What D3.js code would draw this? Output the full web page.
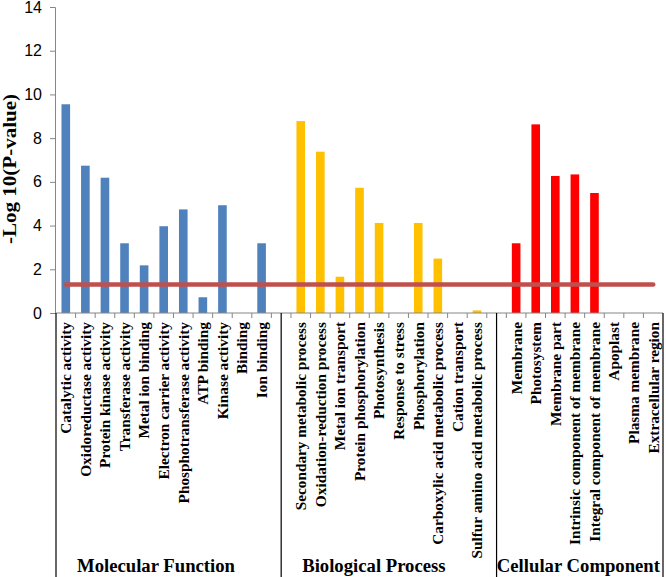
<!DOCTYPE html>
<html><head><meta charset="utf-8">
<script src="https://cdn.jsdelivr.net/npm/d3@7"></script>
<style>body{margin:0;background:#fff}svg{display:block}</style>
</head><body><div id="chart"></div>
<script>
const mfCategories = ["Catalytic activity","Oxidoreductase activity","Protein kinase activity","Transferase activity","Metal ion binding","Electron carrier activity","Phosphotransferase activity","ATP binding","Kinase activity","Binding","Ion binding"];
const mfValues = [9.55,6.74,6.19,3.19,2.18,3.97,4.74,0.72,4.93,0,3.19];
const bpCategories = ["Secondary metabolic process","Oxidation-reduction process","Metal ion transport","Protein phosphorylation","Photosynthesis","Response to stress","Phosphorylation","Carboxylic acid metabolic process","Cation transport","Sulfur amino acid metabolic process"];
const bpValues = [8.78,7.38,1.66,5.73,4.12,0,4.12,2.49,0,0.12];
const ccCategories = ["Membrane","Photosystem","Membrane part","Intrinsic component of membrane","Integral component of membrane","Apoplast","Plasma membrane","Extracellular region"];
const ccValues = [3.19,8.63,6.27,6.34,5.49,0,0,0];
const groupNames = ["Molecular Function","Biological Process","Cellular Component"];
const groupColors = ["#4f81bd","#ffc000","#ff0000"];
const yTicks = [0,2,4,6,8,10,12,14];
const threshold = 1.3;

const W = 666, H = 577;
const svg = d3.select("#chart").append("svg").attr("width",W).attr("height",H);

const groups = [
  {name:groupNames[0], cats:mfCategories, vals:mfValues, color:groupColors[0]},
  {name:groupNames[1], cats:bpCategories, vals:bpValues, color:groupColors[1]},
  {name:groupNames[2], cats:ccCategories, vals:ccValues, color:groupColors[2]}
];
const slots = [];
const bars = [];
groups.forEach((g,gi)=>{
  if(gi>0) slots.push("__gap"+gi);
  g.cats.forEach((c,i)=>{ slots.push(c); bars.push({cat:c, val:g.vals[i], color:g.color, gi}); });
});

const x0 = 56, x1 = 663, yBase = 313, yTop = 7;
const x = d3.scaleBand().domain(slots).range([x0,x1]).padding(0);
const y = d3.scaleLinear().domain([0,14]).range([yBase,yTop]);
const bw = x.bandwidth();
const barW = bw*0.44;

// y axis
const yAxis = svg.append("g").attr("transform",`translate(${x0-1},0)`)
  .call(d3.axisLeft(y).tickValues(yTicks).tickSize(5).tickPadding(8).tickFormat(d3.format("d")));
yAxis.select(".domain").attr("stroke","#868686");
yAxis.selectAll(".tick line").attr("stroke","#868686");
yAxis.selectAll(".tick text").attr("font-family","'Liberation Sans', Arial, sans-serif").attr("font-size",16).attr("fill","#000");

// bars
svg.append("g").selectAll("rect").data(bars.filter(d=>d.val>0)).join("rect")
  .attr("x",d=>x(d.cat)+bw/2-barW/2).attr("width",barW)
  .attr("y",d=>y(d.val)).attr("height",d=>yBase-y(d.val))
  .attr("fill",d=>d.color);

// x axis line
svg.append("line").attr("x1",x0-1).attr("x2",x1).attr("y1",yBase).attr("y2",yBase)
  .attr("stroke","#868686").attr("stroke-width",1);
// ticks at slot boundaries
const bounds = slots.map(s=>x(s)).concat([x1]);
svg.append("g").selectAll("line").data(bounds.slice(1,-1)).join("line")
  .attr("x1",d=>d).attr("x2",d=>d).attr("y1",yBase).attr("y2",yBase+5)
  .attr("stroke","#868686");

// threshold line
const firstC = x(slots[0])+bw/2, lastC = x(slots[slots.length-1])+bw/2;
svg.append("line").attr("x1",firstC).attr("x2",lastC)
  .attr("y1",y(threshold)).attr("y2",y(threshold))
  .attr("stroke","#c0504d").attr("stroke-width",4.5).attr("stroke-linecap","round");

// category labels
svg.append("g").selectAll("text").data(bars).join("text")
  .attr("transform",d=>`translate(${x(d.cat)+bw/2},${yBase+9}) rotate(-90)`)
  .attr("text-anchor","end").attr("dy","0.35em")
  .attr("font-family","'Liberation Serif','Times New Roman',serif").attr("font-weight","bold")
  .attr("font-size",15.3).attr("fill","#000").text(d=>d.cat);

// separators
const sepX = [x0, x("__gap1")+bw/2, x("__gap2")+bw/2, x1];
svg.append("g").selectAll("line").data(sepX).join("line")
  .attr("x1",d=>d).attr("x2",d=>d).attr("y1",yBase).attr("y2",H)
  .attr("stroke","#000").attr("stroke-width",1.2);

// group labels
svg.append("g").selectAll("text").data(groups).join("text")
  .attr("y",572)
  .attr("text-anchor","start")
  .attr("font-family","'Liberation Serif','Times New Roman',serif").attr("font-weight","bold")
  .attr("font-size",18.7).attr("fill","#000").text(d=>d.name)
  .attr("x",function(d,i){
    const w = this.getComputedTextLength();
    return Math.min(sepX[i]+21, sepX[i+1]-w-3);
  });

// y title
svg.append("text").attr("transform",`translate(16,169) rotate(-90)`)
  .attr("text-anchor","middle")
  .attr("font-family","'Liberation Serif','Times New Roman',serif").attr("font-weight","bold")
  .attr("font-size",19).attr("textLength",150).attr("lengthAdjust","spacingAndGlyphs")
  .attr("fill","#000").text("-Log 10(P-value)");
</script></body></html>
